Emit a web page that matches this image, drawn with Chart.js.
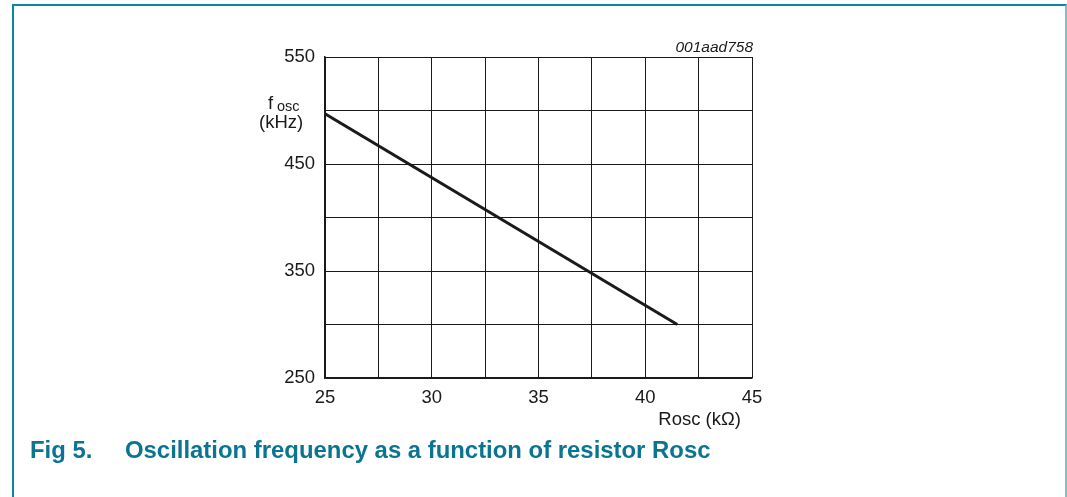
<!DOCTYPE html>
<html>
<head>
<meta charset="utf-8">
<script src="https://cdn.jsdelivr.net/npm/chart.js@4"></script>
<style>
  body { margin: 0; background: #fff; font-family: "Liberation Sans", Arial, sans-serif; }
  #wrap { position: relative; width: 1067px; height: 497px; overflow: hidden; }
  #frame { position: absolute; left: 12px; top: 4px; width: 1051px; height: 520px;
           border-left: 2px solid #0b869c; border-top: 2px solid #0b869c; border-right: 2px solid #7fbfca; }
  #chart { position: absolute; left: 0; top: 0; }
  #caption { position: absolute; left: 30px; top: 436px; color: #0b7591; font-weight: bold; font-size: 23.9px; white-space: nowrap; }
  #caption span { display: inline-block; width: 95px; }
</style>
</head>
<body>
<div id="wrap">
  <div id="frame"></div>
  <canvas id="chart" width="1067" height="497"></canvas>
  <div id="caption"><span>Fig 5.</span>Oscillation frequency as a function of resistor Rosc</div>
</div>
<script>
// data
const rosc = [25, 41.5];          // kOhm
const fosc = [497, 300];          // kHz
const xTickLabels = [25, 30, 35, 40, 45];
const yTickLabels = [250, 350, 450, 550];

const ink = '#1a1a1a';
const fam = '"Liberation Sans", Arial';

// axis titles and figure id
const titles = {
    id: 'titles',
    afterDraw(chart) {
        const ctx = chart.ctx;
        const area = chart.chartArea;
        ctx.save();
        ctx.fillStyle = ink;
        ctx.textBaseline = 'alphabetic';
        // figure code
        ctx.font = 'italic 15.5px ' + fam;
        ctx.textAlign = 'right';
        ctx.fillText('001aad758', area.right + 1, area.top - 5);
        // x title
        ctx.font = '18.5px ' + fam;
        ctx.fillText('Rosc (k\u03A9)', 741, 425);
        // y title with subscript
        ctx.textAlign = 'left';
        ctx.fillText('f', 268, 109);
        ctx.font = '14.5px ' + fam;
        ctx.fillText('osc', 277, 111);
        ctx.font = '18.5px ' + fam;
        ctx.fillText('(kHz)', 259, 128);
        ctx.restore();
    }
};

new Chart(document.getElementById('chart'), {
    type: 'line',
    data: {
        datasets: [{
            data: rosc.map((x, i) => ({x: x, y: fosc[i]})),
            borderColor: ink,
            borderWidth: 3,
            pointRadius: 0,
            tension: 0,
            fill: false
        }]
    },
    options: {
        responsive: false,
        animation: false,
        events: [],
        layout: { padding: { left: 0, top: 57, right: 315, bottom: 79 } },
        scales: {
            x: {
                type: 'linear', min: 25, max: 45,
                afterFit: (s) => { s.height = 40; },
                grid: { color: ink, lineWidth: 1, drawTicks: false },
                border: { color: ink, width: 1.5 },
                ticks: {
                    stepSize: 2.5, padding: 9, maxRotation: 0, autoSkip: false,
                    color: ink, font: { size: 18.5, family: fam },
                    callback: (v) => xTickLabels.includes(v) ? String(v) : ''
                }
            },
            y: {
                type: 'linear', min: 250, max: 550,
                afterFit: (s) => { s.width = 325; },
                grid: { color: ink, lineWidth: 1, drawTicks: false },
                border: { color: ink, width: 1.5 },
                ticks: {
                    stepSize: 50, padding: 10, autoSkip: false,
                    color: ink, font: { size: 18.5, family: fam },
                    callback: (v) => yTickLabels.includes(v) ? String(v) : ''
                }
            }
        },
        plugins: { legend: { display: false }, tooltip: { enabled: false } }
    },
    plugins: [titles]
});
</script>
</body>
</html>
